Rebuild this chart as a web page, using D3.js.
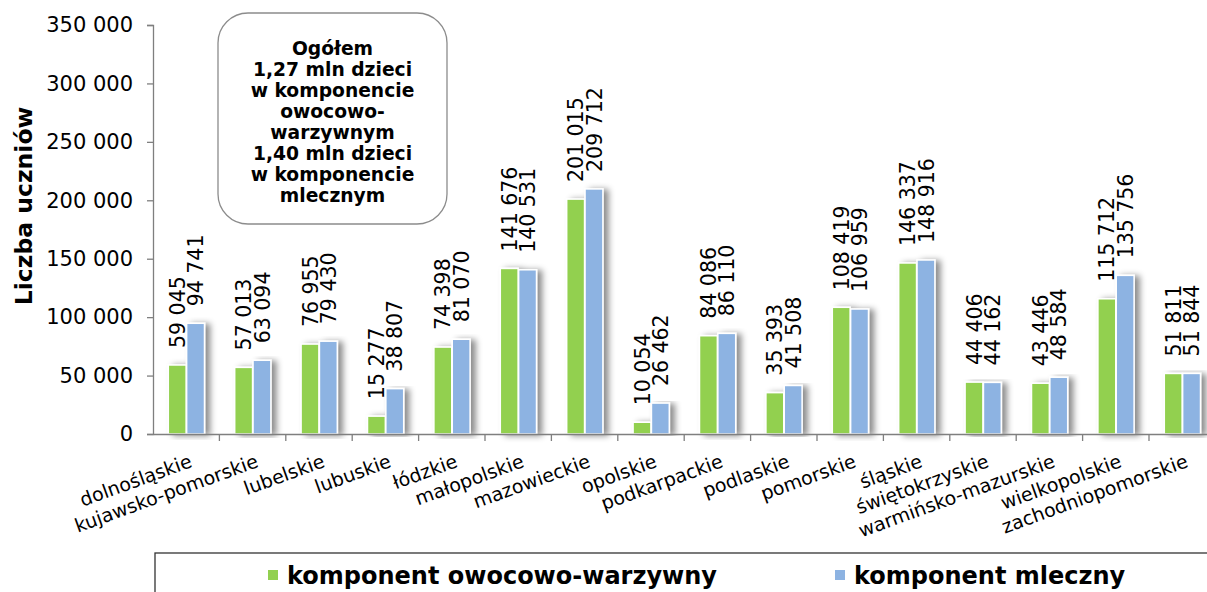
<!DOCTYPE html>
<html><head><meta charset="utf-8">
<script src="https://cdn.jsdelivr.net/npm/d3@7"></script>
<style>
body{margin:0;background:#fff;overflow:hidden}
svg{display:block;font-family:Verdana,"DejaVu Sans",sans-serif}
</style></head>
<body>
<svg id="chart" width="1207" height="592"></svg>
<script>
const categories = ["dolnośląskie","kujawsko-pomorskie","lubelskie","lubuskie","łódzkie","małopolskie","mazowieckie","opolskie","podkarpackie","podlaskie","pomorskie","śląskie","świętokrzyskie","warmińsko-mazurskie","wielkopolskie","zachodniopomorskie"];
const seriesNames = ["komponent owocowo-warzywny","komponent mleczny"];
const fruitVeg = [59045,57013,76955,15277,74398,141676,201015,10054,84086,35393,108419,146337,44406,43446,115712,51811];
const milk = [94741,63094,79430,38807,81070,140531,209712,26462,86110,41508,106959,148916,44162,48584,135756,51844];
const yTicks = [0,50000,100000,150000,200000,250000,300000,350000];
const yTitle = "Liczba uczniów";
const noteLines = ["Ogółem","1,27 mln dzieci","w komponencie","owocowo-","warzywnym","1,40 mln dzieci","w komponencie","mlecznym"];
const colors = ["#92d050","#8db3e2"];

const svg = d3.select("#chart");
const fmt = v => d3.format(",")(v).replace(/,/g," ");

const x0 = d3.scaleBand().domain(categories).range([153, 1215.4]).padding(0);
const x1 = d3.scaleBand().domain([0,1]).range([15.3, 52]).padding(0);
const y = d3.scaleLinear().domain([0,350000]).range([434, 25]);

const defs = svg.append("defs");
const f = defs.append("filter").attr("id","sh").attr("x","-20%").attr("y","-5%").attr("width","180%").attr("height","110%");
f.append("feDropShadow").attr("dx",5).attr("dy",1).attr("stdDeviation",3).attr("flood-color","#000").attr("flood-opacity",0.45);

// y axis
const yAxis = svg.append("g").attr("transform","translate(153,0)")
  .call(d3.axisLeft(y).tickValues(yTicks).tickSize(6).tickPadding(14).tickFormat(fmt));
yAxis.selectAll("path,line").attr("stroke","#7f7f7f").attr("stroke-width",1.3);
yAxis.selectAll("text").attr("font-size",21).attr("fill","#000").attr("font-family",'Verdana,"DejaVu Sans",sans-serif');

svg.append("text").attr("transform","translate(32,206) rotate(-90)").attr("text-anchor","middle")
  .attr("font-size",23.5).attr("font-weight","bold").text(yTitle);

// bars
const data = categories.map((c,i)=>({c, v:[fruitVeg[i], milk[i]]}));
const groups = svg.append("g").selectAll("g").data(data).join("g")
  .attr("transform", d=>`translate(${x0(d.c)},0)`);
groups.append("g").attr("filter","url(#sh)").selectAll("rect").data(d=>d.v).join("rect")
  .attr("x",(v,j)=>x1(j)).attr("width",x1.bandwidth()-0.5)
  .attr("y",v=>y(v)).attr("height",v=>y(0)-y(v))
  .attr("fill",(v,j)=>colors[j]).attr("stroke","#fff").attr("stroke-width",1.5);
groups.selectAll("text.val").data(d=>d.v).join("text").attr("class","val")
  .attr("transform",(v,j)=>`translate(${x1(j)+x1.bandwidth()/2},${y(v)-17}) rotate(-90)`)
  .attr("dy","0.36em").attr("font-size",20.5).attr("fill","#000").text(fmt);

// x axis
const xAxis = svg.append("g").attr("transform","translate(0,434)")
  .call(d3.axisBottom(x0).tickSize(0).tickFormat(""));
xAxis.select("path").attr("stroke","#7f7f7f").attr("stroke-width",1.5);
svg.append("g").selectAll("line").data(categories.slice(1)).join("line")
  .attr("x1",d=>x0(d)).attr("x2",d=>x0(d)).attr("y1",434).attr("y2",441)
  .attr("stroke","#7f7f7f").attr("stroke-width",1.3);
svg.append("g").selectAll("text").data(categories).join("text")
  .attr("transform",d=>`translate(${x0(d)+x0.bandwidth()/2+2},453) rotate(-20)`)
  .attr("text-anchor","end").attr("dominant-baseline","hanging").attr("font-size",19).text(d=>d);

// note box
svg.append("rect").attr("x",218).attr("y",13).attr("width",229).attr("height",211).attr("rx",30)
  .attr("fill","#fff").attr("stroke","#8c8c8c").attr("stroke-width",1.3);
svg.append("g").selectAll("text").data(noteLines).join("text")
  .attr("x",332.5).attr("y",(d,i)=>48+i*21.1).attr("dy","0.35em").attr("text-anchor","middle")
  .attr("font-size",18.7).attr("font-weight","bold").text(d=>d);

// legend
svg.append("rect").attr("x",155).attr("y",553).attr("width",1100).attr("height",100)
  .attr("fill","#fff").attr("stroke","#333").attr("stroke-width",1.3);
const legX = [268, 835];
const leg = svg.append("g").selectAll("g").data(seriesNames).join("g")
  .attr("transform",(d,i)=>`translate(${legX[i]},570)`);
leg.append("rect").attr("width",10).attr("height",10).attr("fill",(d,i)=>colors[i]);
leg.append("text").attr("x",19).attr("y",5).attr("dy","0.36em").attr("font-size",24).attr("font-weight","bold").text(d=>d);
</script>
</body></html>
